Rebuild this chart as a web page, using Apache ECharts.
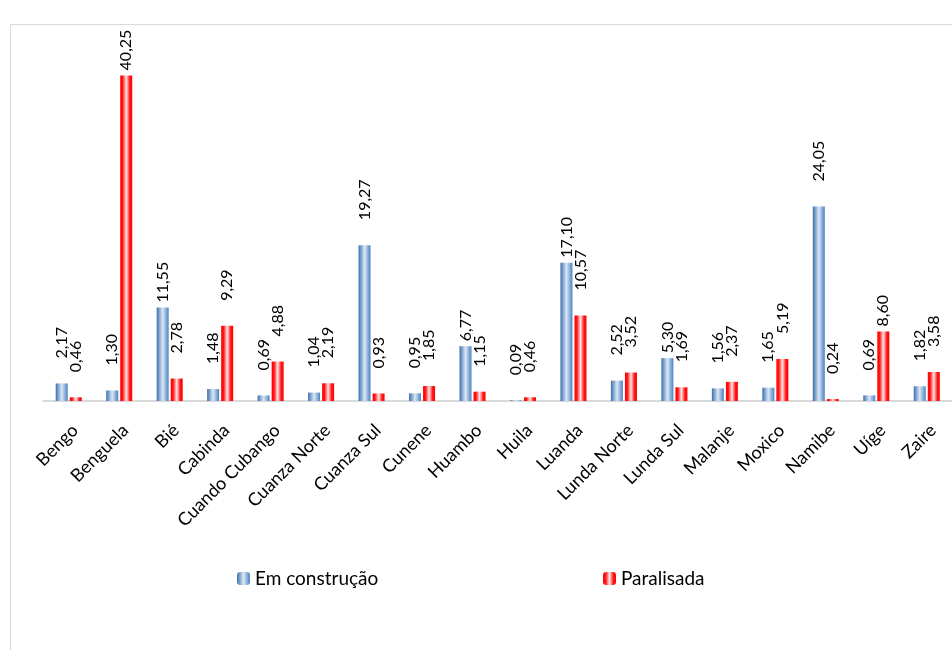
<!DOCTYPE html>
<html>
<head>
<meta charset="utf-8">
<script src="https://cdn.jsdelivr.net/npm/echarts@6/dist/echarts.min.js"></script>
<style>
  html, body { margin: 0; padding: 0; background: #fff; }
  #chart { width: 952px; height: 650px; }
</style>
</head>
<body>
<div id="chart"></div>
<script>
// Provinces (x-axis categories)
const provincias = ['Bengo', 'Benguela', 'Bié', 'Cabinda', 'Cuando Cubango', 'Cuanza Norte',
  'Cuanza Sul', 'Cunene', 'Huambo', 'Huila', 'Luanda', 'Lunda Norte', 'Lunda Sul',
  'Malanje', 'Moxico', 'Namibe', 'Uíge', 'Zaire'];

// Share per province (%)
const emConstrucao = [2.17, 1.30, 11.55, 1.48, 0.69, 1.04, 19.27, 0.95, 6.77, 0.09,
  17.10, 2.52, 5.30, 1.56, 1.65, 24.05, 0.69, 1.82];
const paralisada = [0.46, 40.25, 2.78, 9.29, 4.88, 2.19, 0.93, 1.85, 1.15, 0.46,
  10.57, 3.52, 1.69, 2.37, 5.19, 0.24, 8.60, 3.58];

// Labels that sit close to their bar instead of the usual offset
const closeBlue = ['Bié', 'Huambo', 'Luanda', 'Lunda Sul'];
const closeRed = ['Benguela', 'Uíge'];

const FONT = 'Lato, "Open Sans", sans-serif';

const blueFill = new echarts.graphic.LinearGradient(0, 0, 1, 0, [
  { offset: 0, color: '#3a6fae' },
  { offset: 0.5, color: '#dbe7f4' },
  { offset: 1, color: '#4a82c3' }
]);
const redFill = new echarts.graphic.LinearGradient(0, 0, 1, 0, [
  { offset: 0, color: '#ff0000' },
  { offset: 0.2, color: '#ff1414' },
  { offset: 0.5, color: '#ffe6e6' },
  { offset: 0.8, color: '#ff1414' },
  { offset: 1, color: '#ff0000' }
]);

const valueLabel = {
  show: true,
  position: 'top',
  rotate: 90,
  align: 'left',
  verticalAlign: 'middle',
  distance: 25,
  color: '#000',
  fontFamily: FONT,
  fontSize: 16,
  formatter: p => p.value.toFixed(2).replace('.', ',')
};

function withLabels(values, closeSet) {
  return values.map((v, i) => closeSet.includes(provincias[i])
    ? { value: v, label: { distance: 5 } }
    : v);
}

const chart = echarts.init(document.getElementById('chart'), null, { renderer: 'canvas' });

chart.setOption({
  backgroundColor: '#fff',
  animation: false,
  graphic: [{
    type: 'rect',
    left: 8, top: 22,
    shape: { width: 1000, height: 700 },
    style: { fill: 'none', stroke: '#d9d9d9', lineWidth: 1 },
    silent: true
  }],
  legend: [{
    data: ['Em construção'],
    left: 232, top: 564,
    itemWidth: 13, itemHeight: 13, itemGap: 5,
    textStyle: { fontFamily: FONT, fontSize: 19, color: '#000' }
  }, {
    data: ['Paralisada'],
    left: 598, top: 564,
    itemWidth: 13, itemHeight: 13, itemGap: 5,
    textStyle: { fontFamily: FONT, fontSize: 19, color: '#000' }
  }],
  grid: { left: 43.5, width: 916, top: 37, bottom: 249, containLabel: false },
  xAxis: {
    type: 'category',
    data: provincias,
    axisLine: { show: true, lineStyle: { color: '#d9d9d9', width: 2 } },
    axisTick: { show: false },
    axisLabel: {
      rotate: 45,
      interval: 0,
      margin: 20,
      align: 'right',
      verticalAlign: 'top',
      color: '#000',
      fontFamily: FONT,
      fontSize: 18
    }
  },
  yAxis: {
    type: 'value',
    min: 0, max: 45,
    show: false,
    splitLine: { show: false }
  },
  series: [{
    name: 'Em construção',
    type: 'bar',
    data: withLabels(emConstrucao, closeBlue),
    barWidth: 12,
    barGap: '17%',
    itemStyle: { color: blueFill },
    label: valueLabel
  }, {
    name: 'Paralisada',
    type: 'bar',
    data: withLabels(paralisada, closeRed),
    barWidth: 12,
    barGap: '17%',
    itemStyle: { color: redFill },
    label: valueLabel
  }]
});
</script>
</body>
</html>
